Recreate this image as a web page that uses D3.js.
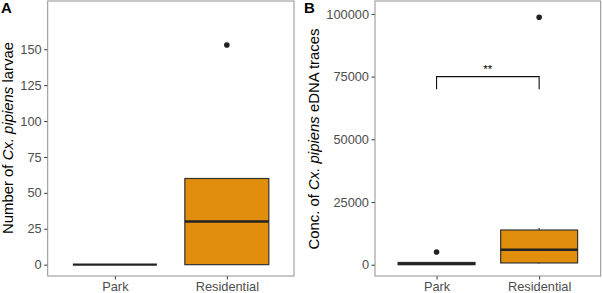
<!DOCTYPE html>
<html lang="en">
<head>
    <meta charset="UTF-8">
    <title>Cx. pipiens larvae and eDNA</title>
    <style>
        body{ margin:0; background:#fff; }
        svg{ display:block; font-family:"Liberation Sans", Arial, sans-serif; }
        .axis text{ font-size:12.8px; fill:#4d4d4d; }
        .axis line{ stroke:#333; }
        .axis path{ display:none; }
        .border{ fill:none; stroke:#8f8f8f; stroke-width:1; }
        .ytitle{ font-size:14.9px; fill:#000; }
        .tag{ font-size:15px; font-weight:bold; fill:#000; }
        .box{ fill:#e08e0b; stroke:#333; stroke-width:1.2; }
        .median{ stroke:#222; stroke-width:2.4; }
        .whisker{ stroke:#333; stroke-width:1.1; }
        .outlier{ fill:#222; }
    </style>
</head>
<body>
<svg width="602" height="293"></svg>
<script src="https://d3js.org/d3.v7.min.js"></script>
<script>
    var categories = ["Park", "Residential"];

    // panel A: number of larvae (lower whisker, q1, median, q3, upper whisker)
    var larvaeStats = [
        {name: "Park", lo: 0, q1: 0, med: 0, q3: 0, hi: 0},
        {name: "Residential", lo: 0, q1: 0, med: 30, q3: 60, hi: 60}
    ];
    var larvaeOutliers = [{name: "Residential", value: 153}];
    var larvaeTicks = [0, 25, 50, 75, 100, 125, 150];

    // panel B: eDNA concentration
    var ednaStats = [
        {name: "Park", lo: 0, q1: 0, med: 350, q3: 900, hi: 1100},
        {name: "Residential", lo: 500, q1: 700, med: 5980, q3: 13840, hi: 14650}
    ];
    var ednaOutliers = [{name: "Park", value: 5060}, {name: "Residential", value: 98650}];
    var ednaTicks = [0, 25000, 50000, 75000, 100000];
    var ednaSignif = {from: "Park", to: "Residential", y: 75000, drop: 70000, label: "**"};

    var svg = d3.select("svg");

    function panel(opt){
        var g = svg.append("g");
        var x = d3.scalePoint().domain(categories).range([opt.left, opt.right]).padding(0.6);
        var y = d3.scaleLinear().domain(opt.domain).range([opt.bottom, opt.top]);
        var bw = x.step() * 0.75;

        g.append("g")
            .attr("class", "axis")
            .attr("transform", "translate(" + opt.left + ",0)")
            .call(d3.axisLeft(y).tickValues(opt.ticks).tickSize(3.5).tickPadding(2.5).tickFormat(d3.format("d")));

        g.append("g")
            .attr("class", "axis")
            .attr("transform", "translate(0," + opt.bottom + ")")
            .call(d3.axisBottom(x).tickSize(3.5).tickPadding(2));

        // whiskers
        g.selectAll(".wh")
            .data(opt.stats.filter(function(d){ return d.hi > d.q3 || d.lo < d.q1; }))
            .enter().append("g")
            .each(function(d){
                var s = d3.select(this);
                s.append("line").attr("class", "whisker")
                    .attr("x1", x(d.name)).attr("x2", x(d.name))
                    .attr("y1", y(d.q3)).attr("y2", y(d.hi));
                s.append("line").attr("class", "whisker")
                    .attr("x1", x(d.name)).attr("x2", x(d.name))
                    .attr("y1", y(d.q1)).attr("y2", y(d.lo));
            });

        g.selectAll(".box")
            .data(opt.stats)
            .enter().append("rect")
            .attr("class", "box")
            .attr("x", function(d){ return x(d.name) - bw / 2; })
            .attr("y", function(d){ return y(d.q3); })
            .attr("width", bw)
            .attr("height", function(d){ return y(d.q1) - y(d.q3); });

        g.selectAll(".median")
            .data(opt.stats)
            .enter().append("line")
            .attr("class", "median")
            .attr("x1", function(d){ return x(d.name) - bw / 2; })
            .attr("x2", function(d){ return x(d.name) + bw / 2; })
            .attr("y1", function(d){ return y(d.med); })
            .attr("y2", function(d){ return y(d.med); });

        g.selectAll(".outlier")
            .data(opt.outliers)
            .enter().append("circle")
            .attr("class", "outlier")
            .attr("cx", function(d){ return x(d.name); })
            .attr("cy", function(d){ return y(d.value); })
            .attr("r", 2.8);

        if(opt.signif){
            var s = opt.signif;
            g.append("path")
                .attr("fill", "none").attr("stroke", "#111").attr("stroke-width", 1.1)
                .attr("d", "M" + x(s.from) + "," + y(s.drop) + "V" + y(s.y) + "H" + x(s.to) + "V" + y(s.drop));
            g.append("text")
                .attr("x", (x(s.from) + x(s.to)) / 2)
                .attr("y", y(s.y) - 4)
                .attr("text-anchor", "middle")
                .attr("font-size", "11.5px")
                .text(s.label);
        }

        g.append("rect")
            .attr("class", "border")
            .attr("x", opt.left).attr("y", opt.top)
            .attr("width", opt.right - opt.left).attr("height", opt.bottom - opt.top);

        var t = g.append("text")
            .attr("class", "ytitle")
            .attr("transform", "translate(" + opt.titleX + "," + opt.titleY + ") rotate(-90)")
            .attr("text-anchor", "middle");
        t.append("tspan").text(opt.title[0]);
        t.append("tspan").attr("font-style", "italic").text(opt.title[1]);
        t.append("tspan").text(opt.title[2]);

        svg.append("text").attr("class", "tag")
            .attr("x", opt.tagX).attr("y", 13)
            .text(opt.tag);
    }

    panel({
        left: 47.7, right: 294, top: 1, bottom: 276,
        domain: [-7.9, 183.6],
        ticks: larvaeTicks,
        stats: larvaeStats,
        outliers: larvaeOutliers,
        title: ["Number of ", "Cx. pipiens", " larvae"],
        titleX: 12.5, titleY: 138, tag: "A", tagX: 1
    });

    panel({
        left: 375, right: 600.7, top: 1, bottom: 276,
        domain: [-4500, 105140],
        ticks: ednaTicks,
        stats: ednaStats,
        outliers: ednaOutliers,
        signif: ednaSignif,
        title: ["Conc. of ", "Cx. pipiens", " eDNA traces"],
        titleX: 318.5, titleY: 139, tag: "B", tagX: 304
    });
</script>
</body>
</html>
